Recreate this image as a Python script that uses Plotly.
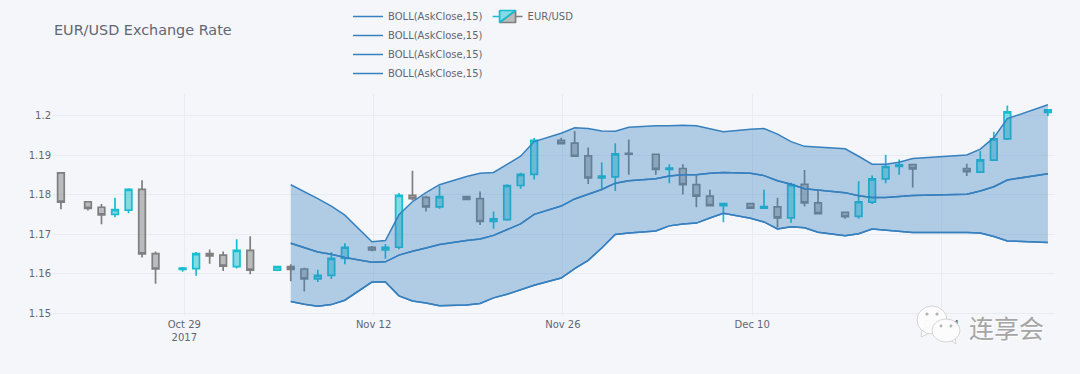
import plotly.graph_objects as go

dates = ["2017-10-19","2017-10-21","2017-10-22","2017-10-23","2017-10-24","2017-10-25","2017-10-26",
"2017-10-28","2017-10-29","2017-10-30","2017-10-31","2017-11-01","2017-11-02",
"2017-11-04","2017-11-05","2017-11-06","2017-11-07","2017-11-08","2017-11-09",
"2017-11-11","2017-11-12","2017-11-13","2017-11-14","2017-11-15","2017-11-16",
"2017-11-18","2017-11-19","2017-11-20","2017-11-21","2017-11-22","2017-11-23",
"2017-11-25","2017-11-26","2017-11-27","2017-11-28","2017-11-29","2017-11-30",
"2017-12-02","2017-12-03","2017-12-04","2017-12-05","2017-12-06","2017-12-07",
"2017-12-09","2017-12-10","2017-12-11","2017-12-12","2017-12-13","2017-12-14",
"2017-12-16","2017-12-17","2017-12-18","2017-12-19","2017-12-20","2017-12-21",
"2017-12-25","2017-12-26","2017-12-27","2017-12-28","2017-12-31"]
times = [d + " 21:00" for d in dates]

opens = [1.1855,1.1782,1.1768,1.1750,1.1761,1.1813,1.1651,
1.1611,1.1613,1.1651,1.1647,1.1618,1.1659,
1.1609,1.1618,1.1612,1.1587,1.1596,1.1639,
1.1667,1.1660,1.1667,1.1798,1.1793,1.1769,
1.1795,1.1790,1.1732,1.1737,1.1823,1.1851,
1.1937,1.1930,1.1898,1.1842,1.1845,1.1904,
1.1902,1.1864,1.1866,1.1825,1.1796,1.1772,
1.1777,1.1766,1.1769,1.1741,1.1826,1.1779,
1.1755,1.1745,1.1781,1.1840,1.1871,1.1876,
1.1866,1.1857,1.1887,1.1941,1.2008]
closes = [1.1781,1.1765,1.1749,1.1762,1.1813,1.1650,1.1612,
1.1614,1.1651,1.1645,1.1619,1.1659,1.1609,
1.1618,1.1611,1.1587,1.1596,1.1639,1.1667,
1.1660,1.1667,1.1798,1.1790,1.1769,1.1795,
1.1788,1.1732,1.1739,1.1823,1.1851,1.1937,
1.1929,1.1897,1.1842,1.1847,1.1903,1.1902,
1.1864,1.1867,1.1825,1.1796,1.1772,1.1777,
1.1766,1.1770,1.1741,1.1825,1.1779,1.1752,
1.1744,1.1782,1.1840,1.1871,1.1875,1.1865,
1.1858,1.1888,1.1941,1.2009,1.2014]
highs = [1.1857,1.1782,1.1776,1.1792,1.1816,1.1836,1.1656,
1.1617,1.1655,1.1661,1.1656,1.1687,1.1695,
1.1618,1.1624,1.1615,1.1610,1.1654,1.1677,
1.1670,1.1675,1.1804,1.1860,1.1797,1.1822,
1.1797,1.1808,1.1757,1.1826,1.1855,1.1943,
1.1944,1.1961,1.1919,1.1882,1.1930,1.1939,
1.1903,1.1877,1.1877,1.1848,1.1812,1.1777,
1.1778,1.1812,1.1792,1.1830,1.1862,1.1812,
1.1756,1.1834,1.1848,1.1901,1.1889,1.1876,
1.1878,1.1910,1.1959,1.2025,1.2015]
lows = [1.1763,1.1760,1.1725,1.1743,1.1753,1.1641,1.1575,
1.1605,1.1595,1.1625,1.1607,1.1613,1.1599,
1.1609,1.1581,1.1555,1.1579,1.1587,1.1624,
1.1657,1.1638,1.1662,1.1785,1.1757,1.1764,
1.1787,1.1723,1.1714,1.1734,1.1815,1.1838,
1.1928,1.1896,1.1827,1.1815,1.1809,1.1850,
1.1850,1.1829,1.1800,1.1768,1.1772,1.1730,
1.1765,1.1766,1.1717,1.1729,1.1770,1.1751,
1.1739,1.1739,1.1776,1.1829,1.1850,1.1818,
1.1847,1.1857,1.1887,1.1938,1.1999]

boll_upper = [1.1825,1.1808,1.1790,1.1771,1.1748,1.1681,1.1684,1.1749,1.1782,1.1805,1.1825,1.1846,
1.1854,1.1856,1.1877,1.1897,1.1934,1.1955,1.1969,1.1967,1.1961,1.1960,1.1970,1.1974,1.1974,1.1975,
1.1974,1.1967,1.1959,1.1965,1.1967,1.1953,1.1934,1.1922,1.1920,1.1916,1.1897,1.1877,1.1877,1.1882,
1.1891,1.1900,1.1915,1.1944,1.1992,1.2027]
boll_mid = [1.1677,1.1666,1.1655,1.1649,1.1641,1.1629,1.1630,1.1647,1.1657,1.1665,1.1674,1.1684,
1.1688,1.1697,1.1711,1.1726,1.1750,1.1771,1.1789,1.1802,1.1813,1.1829,1.1835,1.1840,1.1847,1.1850,
1.1850,1.1854,1.1856,1.1854,1.1848,1.1835,1.1826,1.1815,1.1812,1.1805,1.1797,1.1793,1.1793,1.1795,
1.1798,1.1801,1.1809,1.1820,1.1837,1.1853]
boll_lower = [1.1530,1.1523,1.1518,1.1522,1.1533,1.1579,1.1579,1.1544,1.1531,1.1526,1.1519,1.1521,
1.1525,1.1539,1.1548,1.1560,1.1571,1.1589,1.1613,1.1634,1.1665,1.1699,1.1703,1.1708,1.1721,1.1726,
1.1728,1.1741,1.1753,1.1740,1.1731,1.1713,1.1719,1.1716,1.1705,1.1696,1.1701,1.1713,1.1710,1.1708,
1.1704,1.1704,1.1703,1.1694,1.1683,1.1679]
boll_times = times[len(times) - len(boll_upper):]

tick_vals = ["2017-10-29","2017-11-12","2017-11-26","2017-12-10","2017-12-24"]
tick_text = ["Oct 29<br>2017","Nov 12","Nov 26","Dec 10","Dec 24"]
y_ticks = [1.15,1.16,1.17,1.18,1.19,1.2]
y_text = ["1.15","1.16","1.17","1.18","1.19","1.2"]

BLUE = "rgb(55,128,191)"
TXT = "#5F6772"
GRID = "#E8EBF2"
FONT = "DejaVu Sans"
NAME = "BOLL(AskClose,15)"

fig = go.Figure()
fig.add_trace(go.Candlestick(x=times, open=opens, high=highs, low=lows, close=closes, name="EUR/USD",
    increasing=dict(line=dict(color="#17BECF", width=1.7)),
    decreasing=dict(line=dict(color="#7F7F7F", width=1.7)),
    legendgroup="b", legendrank=2000))
common = dict(x=boll_times, mode="lines", name=NAME, line=dict(color=BLUE, width=1.5),
              legendgroup="a", legendrank=1000)
fig.add_trace(go.Scatter(y=boll_upper, **common))
fig.add_trace(go.Scatter(y=boll_lower, fill="tonexty", fillcolor="rgba(55,128,191,0.36)", showlegend=False, **common))
fig.add_trace(go.Scatter(y=boll_mid, **common))
fig.add_trace(go.Scatter(y=boll_lower, **common))
fig.add_trace(go.Scatter(y=boll_mid, **common))

L, R, T, B = 52, 25, 94, 59
W, H = 1080, 374
PW, PH = W - L - R, H - T - B
px = lambda v: (v - L) / PW
py = lambda v: (H - B - v) / PH

def oval(cx, cy, rx, ry, fill, line):
    return dict(type="circle", xref="paper", yref="paper",
                x0=px(cx-rx), x1=px(cx+rx), y0=py(cy+ry), y1=py(cy-ry),
                fillcolor=fill, line=line, layer="above")

def tail(p1, p2, p3, fill, line):
    path = "M {} {} L {} {} L {} {} Z".format(px(p1[0]), py(p1[1]), px(p2[0]), py(p2[1]), px(p3[0]), py(p3[1]))
    return dict(type="path", xref="paper", yref="paper", path=path, fillcolor=fill, line=line, layer="above")

WHITE = "rgba(252,252,252,0.97)"
EDGE = dict(color="rgba(175,175,175,0.7)", width=0.7)
NONE = dict(width=0)
EYE = "rgba(170,170,170,0.9)"
shapes = [tail((922, 330), (921, 337), (930, 333), WHITE, EDGE),
          tail((950, 340), (956, 344), (955, 337), WHITE, EDGE),
          oval(932, 320, 15, 14, WHITE, EDGE),
          oval(946, 330.5, 14, 11.5, WHITE, EDGE),
          oval(927, 314, 1.6, 1.6, EYE, NONE), oval(937, 314, 1.6, 1.6, EYE, NONE),
          oval(941, 326, 1.4, 1.4, EYE, NONE), oval(951, 326, 1.4, 1.4, EYE, NONE)]

fig.update_layout(
    width=W, height=H, autosize=False,
    margin=dict(l=L, r=R, t=T, b=B, pad=0, autoexpand=False),
    paper_bgcolor="#F5F6F9", plot_bgcolor="#F5F6F9",
    font=dict(family=FONT, color=TXT, size=10),
    title=dict(text="EUR/USD Exchange Rate", x=54/W, y=1-30/H, xanchor="left", yanchor="middle",
               font=dict(family=FONT, size=14.4, color=TXT)),
    legend=dict(orientation="h", x=px(348), y=py(45), xanchor="left", yanchor="middle",
                font=dict(family=FONT, size=10, color=TXT), bgcolor="rgba(0,0,0,0)", tracegroupgap=0),
    xaxis=dict(type="date", rangeslider=dict(visible=False),
               range=["2017-10-19 05:10", "2018-01-01 09:36"],
               tickmode="array", tickvals=tick_vals, ticktext=tick_text, ticklabelstandoff=2,
               gridcolor=GRID, showline=False, zeroline=False, ticks="", tickfont=dict(color=TXT, size=10)),
    yaxis=dict(range=[1.14957, 1.20543], tickmode="array", tickvals=y_ticks, ticktext=y_text,
               gridcolor=GRID, showline=False, zeroline=False, ticks="", tickfont=dict(color=TXT, size=10)),
    shapes=shapes,
    annotations=[dict(text="连享会", xref="paper", yref="paper", x=px(1006), y=py(327), xanchor="center", yanchor="middle",
                      showarrow=False, font=dict(family="Noto Sans CJK SC", size=25, color="#A6A6A6",
                                                 shadow="1px 1px 0px #ffffff"))],
)

fig.write_html("out.html", config=dict(displayModeBar=False),
               post_script="document.body.style.margin='0';document.body.style.overflow='hidden';")
